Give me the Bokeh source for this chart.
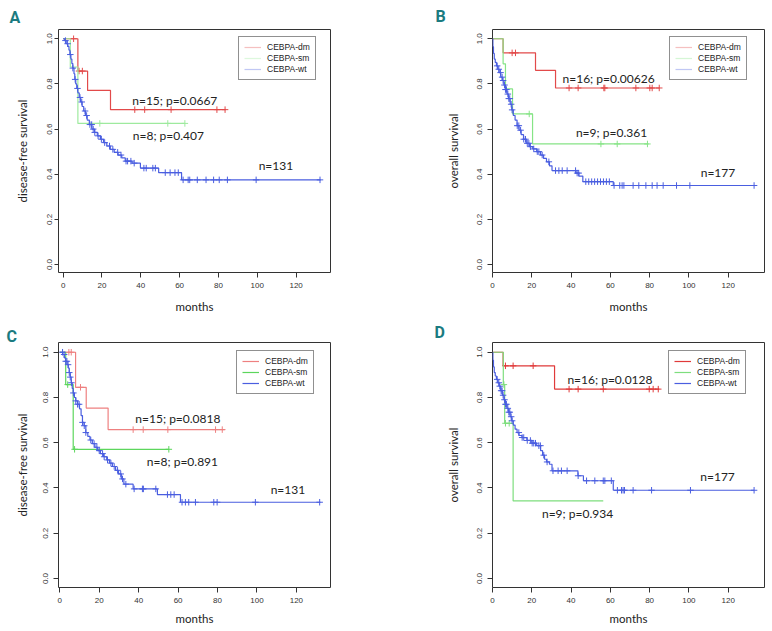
import numpy as np
from bokeh.plotting import figure
from bokeh.models import (Legend, LegendItem, Title, FixedTicker, PrintfTickFormatter,
                          Range1d, ColumnDataSource)
from bokeh.layouts import gridplot
from bokeh.embed import file_html
from bokeh.resources import INLINE
from bokeh.core.properties import value

# ----------------------------- data -----------------------------
GROUPS = ["CEBPA-dm", "CEBPA-sm", "CEBPA-wt"]
X_TICKS = [0, 20, 40, 60, 80, 100, 120]
Y_TICKS = [0.0, 0.2, 0.4, 0.6, 0.8, 1.0]
X_LABEL = "months"

# Panel A: disease-free survival (first cohort)
a_dm_times = [7.6, 12.6, 24.4]
a_dm_surv = [0.857, 0.771, 0.686]
a_dm_cens = [5.4, 8.2, 9.9, 36.9, 42.0, 55.6, 79.2, 83.4]
a_dm_end = 83.7
a_sm_times = [3.7, 7.6]
a_sm_surv = [0.875, 0.625]
a_sm_cens = [18.9, 53.9, 62.7]
a_sm_end = 62.7
a_wt_times = [0.8, 1.6, 2.4, 3.0, 3.5, 4.0, 4.5, 5.0, 5.6, 6.0, 6.5, 7.0, 7.6, 8.3, 9.0, 9.8,
              10.6, 11.5, 12.4, 13.5, 14.8, 16.2, 17.6, 19.2, 20.8, 22.5, 24.3, 26.3, 28.3,
              30.2, 32.0, 35.5, 39.8, 49.2, 61.0]
a_wt_surv = [0.992, 0.978, 0.966, 0.95, 0.93, 0.91, 0.89, 0.87, 0.845, 0.82, 0.80, 0.78, 0.76,
             0.74, 0.72, 0.70, 0.68, 0.66, 0.64, 0.62, 0.60, 0.585, 0.57, 0.555, 0.54, 0.525,
             0.51, 0.497, 0.485, 0.472, 0.458, 0.449, 0.427, 0.407, 0.375]
a_wt_cens = [1.2, 2.3, 3.7, 5.0, 6.2, 7.4, 8.7, 9.6, 11.3, 12.1, 13.8, 14.7, 15.5, 16.3, 18.0,
             19.7, 21.4, 23.9, 25.6, 28.1, 29.8, 32.4, 33.2, 34.9, 36.6, 41.6, 42.8, 46.2,
             47.5, 52.6, 55.1, 57.6, 59.3, 61.8, 64.4, 65.2, 69.1, 73.6, 77.5, 80.4, 84.6,
             99.4, 132.3]
a_wt_end = 132.6
a_notes = ["n=15; p=0.0667", "n=8; p=0.407", "n=131"]
a_notes_x = [57.5, 54.2, 109.6]
a_notes_y = [0.728, 0.573, 0.438]

# Panel B: overall survival (first cohort)
b_dm_times = [5.4, 21.9, 32.1]
b_dm_surv = [0.9375, 0.86, 0.782]
b_dm_cens = [10.0, 11.7, 39.0, 43.6, 56.7, 57.2, 73.0, 80.1, 81.3, 84.9]
b_dm_end = 84.9
b_sm_times = [5.4, 6.6, 10.2, 20.4]
b_sm_surv = [0.889, 0.778, 0.667, 0.534]
b_sm_cens = [18.7, 55.2, 63.5, 78.9]
b_sm_end = 79.5
b_wt_times = [0.2, 0.5, 0.9, 1.4, 2.0, 2.7, 3.4, 4.2, 5.0, 5.8, 6.6, 7.4, 8.2, 9.0, 9.8, 10.6,
              11.5, 12.5, 13.5, 14.6, 15.8, 17.2, 18.8, 20.5, 22.5, 24.5, 26.0, 27.5, 29.0,
              30.3, 42.5, 44.0, 46.0, 61.5]
b_wt_surv = [0.965, 0.935, 0.91, 0.895, 0.88, 0.865, 0.85, 0.83, 0.815, 0.795, 0.775, 0.755,
             0.735, 0.71, 0.685, 0.66, 0.64, 0.615, 0.595, 0.575, 0.555, 0.537, 0.522, 0.512,
             0.5, 0.485, 0.47, 0.455, 0.437, 0.416, 0.405, 0.392, 0.367, 0.35]
b_wt_cens = [2.4, 3.2, 4.1, 4.9, 5.4, 6.1, 6.6, 7.1, 7.8, 8.3, 8.8, 9.5, 10.0, 12.6, 13.4, 14.3,
             15.9, 16.8, 17.7, 18.5, 19.3, 21.0, 22.8, 23.6, 25.3, 28.7, 32.1, 33.8, 35.5,
             38.0, 42.3, 43.1, 43.9, 47.5, 49.0, 50.5, 52.0, 53.5, 55.0, 56.5, 58.0, 59.5,
             61.9, 64.8, 66.0, 66.9, 71.6, 74.5, 78.1, 81.3, 83.8, 86.9, 93.7, 100.5, 133.2]
b_wt_end = 133.2
b_notes = ["n=16; p=0.00626", "n=9; p=0.361", "n=177"]
b_notes_x = [59.1, 60.6, 114.8]
b_notes_y = [0.824, 0.585, 0.409]

# Panel C: disease-free survival (second analysis)
c_dm_times = [8.0, 13.4, 24.5]
c_dm_surv = [0.845, 0.753, 0.658]
c_dm_cens = [4.6, 5.8, 10.5, 37.2, 42.3, 54.8, 79.0, 82.4]
c_dm_end = 83.7
c_sm_times = [3.0, 6.8]
c_sm_surv = [0.857, 0.571]
c_sm_cens = [4.0, 7.5, 55.3]
c_sm_end = 55.3
c_wt_times = [1.5, 2.3, 3.0, 3.7, 4.3, 4.8, 5.3, 5.8, 6.3, 6.8, 7.4, 8.1, 9.0, 10.0, 10.8, 11.5,
              12.3, 13.2, 14.2, 15.3, 16.5, 17.8, 19.2, 20.6, 22.2, 23.8, 25.2, 26.7, 28.3,
              29.8, 31.2, 32.5, 37.2, 49.5, 61.2]
c_wt_surv = [0.99, 0.975, 0.96, 0.945, 0.93, 0.91, 0.89, 0.865, 0.84, 0.82, 0.80, 0.785, 0.77,
             0.75, 0.72, 0.69, 0.675, 0.645, 0.628, 0.612, 0.596, 0.58, 0.565, 0.552, 0.538,
             0.524, 0.51, 0.495, 0.478, 0.462, 0.44, 0.417, 0.396, 0.371, 0.337]
c_wt_cens = [1.4, 2.2, 3.0, 3.6, 4.2, 4.8, 5.3, 5.9, 6.9, 8.1, 9.0, 9.8, 11.5, 12.4, 13.2, 15.7,
             17.4, 18.8, 20.0, 21.7, 22.5, 24.2, 25.9, 27.6, 29.3, 30.9, 31.8, 33.5, 37.7,
             41.9, 42.4, 48.7, 54.6, 56.3, 58.0, 62.0, 63.7, 65.4, 68.8, 78.1, 79.8, 99.2,
             131.8]
c_wt_end = 132.2
c_notes = ["n=15; p=0.0818", "n=8; p=0.891", "n=131"]
c_notes_x = [59.9, 62.2, 115.7]
c_notes_y = [0.708, 0.517, 0.393]

# Panel D: overall survival (second analysis)
d_dm_times = [5.4, 31.6]
d_dm_surv = [0.94, 0.837]
d_dm_cens = [6.6, 10.5, 20.7, 39.0, 43.6, 56.4, 79.8, 81.8, 84.4]
d_dm_end = 84.9
d_sm_times = [5.5, 6.2, 10.5]
d_sm_surv = [0.857, 0.686, 0.343]
d_sm_cens = [5.8, 6.6, 8.5]
d_sm_end = 56.4
d_wt_times = [0.2, 0.5, 0.9, 1.4, 2.0, 2.7, 3.4, 4.2, 5.0, 5.8, 6.6, 7.4, 8.2, 9.0, 9.8, 10.6,
              11.5, 12.5, 13.5, 15.0, 17.5, 20.0, 22.5, 24.5, 25.5, 26.5, 27.5, 29.0, 30.3,
              43.5, 46.3, 61.5]
d_wt_surv = [0.965, 0.935, 0.91, 0.895, 0.88, 0.865, 0.85, 0.83, 0.81, 0.79, 0.77, 0.752,
             0.735, 0.715, 0.697, 0.678, 0.66, 0.645, 0.632, 0.623, 0.61, 0.598, 0.587, 0.565,
             0.545, 0.527, 0.515, 0.505, 0.476, 0.454, 0.432, 0.39]
d_wt_cens = [2.4, 3.2, 3.7, 4.4, 4.9, 5.4, 6.1, 6.6, 7.1, 7.8, 8.3, 8.8, 9.5, 10.0, 13.4, 15.1,
             15.9, 17.7, 19.3, 20.2, 21.0, 21.9, 23.6, 24.4, 26.1, 27.8, 30.8, 33.4, 35.1,
             38.0, 43.6, 47.9, 52.1, 56.4, 57.2, 60.5, 63.6, 65.7, 66.5, 67.2, 71.6, 81.0,
             100.8, 133.2]
d_wt_end = 133.2
d_notes = ["n=16; p=0.0128", "n=9; p=0.934", "n=177"]
d_notes_x = [59.8, 43.3, 114.6]
d_notes_y = [0.879, 0.286, 0.452]

# ----------------------------- styles -----------------------------
TEAL = "#1b7b80"
TICK_FONT = "Liberation Sans"
TEXT_FONT = "Lato"

PANELS = [
    dict(letter="A", ylabel="disease-free survival",
         curves=[(a_dm_times, a_dm_surv, a_dm_cens, a_dm_end),
                 (a_sm_times, a_sm_surv, a_sm_cens, a_sm_end),
                 (a_wt_times, a_wt_surv, a_wt_cens, a_wt_end)],
         notes=(a_notes, a_notes_x, a_notes_y),
         colors=["#e24a4a", "#9eea9e", "#4a5ee0"], leg_alpha=0.35,
         w=386, h=315, bl=53, br=56, bt=29, bb=42,
         xr=(-2.38, 137.7), yr=(-0.0353, 1.041),
         ytick_out=4, ylab_standoff=2, yaxis_standoff=16, xaxis_standoff=9,
         letter_offset=-49, letter_standoff=5, leg=(180, 192)),
    dict(letter="B", ylabel="overall survival",
         curves=[(b_dm_times, b_dm_surv, b_dm_cens, b_dm_end),
                 (b_sm_times, b_sm_surv, b_sm_cens, b_sm_end),
                 (b_wt_times, b_wt_surv, b_wt_cens, b_wt_end)],
         notes=(b_notes, b_notes_x, b_notes_y),
         colors=["#e24a4a", "#86e486", "#4a5ee0"], leg_alpha=0.35,
         w=386, h=315, bl=106, br=8, bt=29, bb=42,
         xr=(0.0, 138.5), yr=(-0.0353, 1.041),
         ytick_out=5, ylab_standoff=5, yaxis_standoff=15, xaxis_standoff=9,
         letter_offset=-57, letter_standoff=8, leg=(177, 192)),
    dict(letter="C", ylabel="disease-free survival",
         curves=[(c_dm_times, c_dm_surv, c_dm_cens, c_dm_end),
                 (c_sm_times, c_sm_surv, c_sm_cens, c_sm_end),
                 (c_wt_times, c_wt_surv, c_wt_cens, c_wt_end)],
         notes=(c_notes, c_notes_x, c_notes_y),
         colors=["#ee8080", "#5cd65c", "#4a5ee0"], leg_alpha=1.0,
         w=386, h=314, bl=58, br=56, bt=27, bb=42,
         xr=(-0.66, 137.3), yr=(-0.0398, 1.043),
         ytick_out=5, ylab_standoff=5, yaxis_standoff=12, xaxis_standoff=6,
         letter_offset=-52, letter_standoff=-6, leg=(178, 193)),
    dict(letter="D", ylabel="overall survival",
         curves=[(d_dm_times, d_dm_surv, d_dm_cens, d_dm_end),
                 (d_sm_times, d_sm_surv, d_sm_cens, d_sm_end),
                 (d_wt_times, d_wt_surv, d_wt_cens, d_wt_end)],
         notes=(d_notes, d_notes_x, d_notes_y),
         colors=["#e03a3a", "#7ede7e", "#4a5ee0"], leg_alpha=1.0,
         w=386, h=314, bl=106, br=8, bt=27, bb=42,
         xr=(0.0, 138.5), yr=(-0.0398, 1.043),
         ytick_out=5, ylab_standoff=5, yaxis_standoff=15, xaxis_standoff=6,
         letter_offset=-58, letter_standoff=1, leg=(176, 193)),
]


def step_value(times, surv, t):
    idx = np.searchsorted(np.asarray(times), t, side="right")
    levels = np.concatenate([[1.0], np.asarray(surv)])
    return levels[idx]


def make_panel(P):
    p = figure(width=P["w"], height=P["h"], title=None,
               x_range=Range1d(*P["xr"]), y_range=Range1d(*P["yr"]),
               output_backend="svg", toolbar_location=None,
               min_border_left=P["bl"], min_border_right=P["br"],
               min_border_top=P["bt"], min_border_bottom=P["bb"])
    p.xgrid.visible = False
    p.ygrid.visible = False
    p.outline_line_color = "#333333"
    p.outline_line_width = 1
    p.background_fill_color = "white"
    p.border_fill_color = "white"

    for ax in (p.xaxis[0], p.yaxis[0]):
        ax.axis_line_color = None
        ax.major_tick_line_color = "#333333"
        ax.major_tick_in = 0
        ax.minor_tick_line_color = None
        ax.major_label_text_font = TICK_FONT
        ax.major_label_text_font_size = "8px"
        ax.major_label_text_color = "#333333"
        ax.axis_label_text_font = TEXT_FONT
        ax.axis_label_text_font_size = "11.5px"
        ax.axis_label_text_font_style = "normal"
        ax.axis_label_text_color = "#222222"
    p.xaxis.ticker = FixedTicker(ticks=X_TICKS)
    p.yaxis.ticker = FixedTicker(ticks=Y_TICKS)
    p.yaxis.formatter = PrintfTickFormatter(format="%.1f")
    p.xaxis.major_tick_out = 5
    p.xaxis.major_label_standoff = 5
    p.xaxis.axis_label = X_LABEL
    p.xaxis.axis_label_standoff = P["xaxis_standoff"]
    p.yaxis.major_tick_out = P["ytick_out"]
    p.yaxis.major_label_standoff = P["ylab_standoff"]
    p.yaxis.major_label_orientation = "vertical"
    p.yaxis.axis_label = P["ylabel"]
    p.yaxis.axis_label_standoff = P["yaxis_standoff"]

    items = []
    for (times, surv, cens, end), color, name in zip(P["curves"], P["colors"], GROUPS):
        xs = [0.0] + list(times) + [end]
        ys = [1.0] + list(surv) + [surv[-1]]
        p.step(xs, ys, mode="after", line_color=color, line_width=1.2)
        cy = step_value(times, surv, np.asarray(cens))
        p.scatter(list(cens), list(cy), marker="cross", size=6.5, line_color=color,
                  line_width=1)
        # legend key line (single off-range point, only its legend glyph is seen)
        dummy = p.line([-500.0], [-500.0], line_color=color, line_width=1.2,
                       line_alpha=P["leg_alpha"])
        items.append(LegendItem(label=name, renderers=[dummy]))

    legend = Legend(items=items, location=P["leg"], margin=0, padding=5, spacing=1,
                    label_text_font=TICK_FONT, label_text_font_size="8.5px",
                    label_text_color="#222222", label_height=10, glyph_height=10,
                    glyph_width=17, label_standoff=6, border_line_color="#222222",
                    border_line_width=1, background_fill_color="white",
                    background_fill_alpha=1.0)
    p.add_layout(legend)

    notes, nx, ny = P["notes"]
    src = ColumnDataSource(dict(x=nx, y=ny, t=notes))
    p.text(x="x", y="y", text="t", source=src, text_font=value(TEXT_FONT),
           text_font_size="12px", text_color="#222222", text_align="center",
           text_baseline="middle")

    p.add_layout(Title(text=P["letter"], align="left", offset=P["letter_offset"],
                       standoff=P["letter_standoff"], vertical_align="bottom",
                       text_font="Roboto", text_font_style="bold",
                       text_font_size="16px", text_color=TEAL), "above")
    return p


figs = [make_panel(P) for P in PANELS]
grid = gridplot([[figs[0], figs[1]], [figs[2], figs[3]]], toolbar_location=None)

open("out.html", "w").write(file_html(grid, INLINE))
